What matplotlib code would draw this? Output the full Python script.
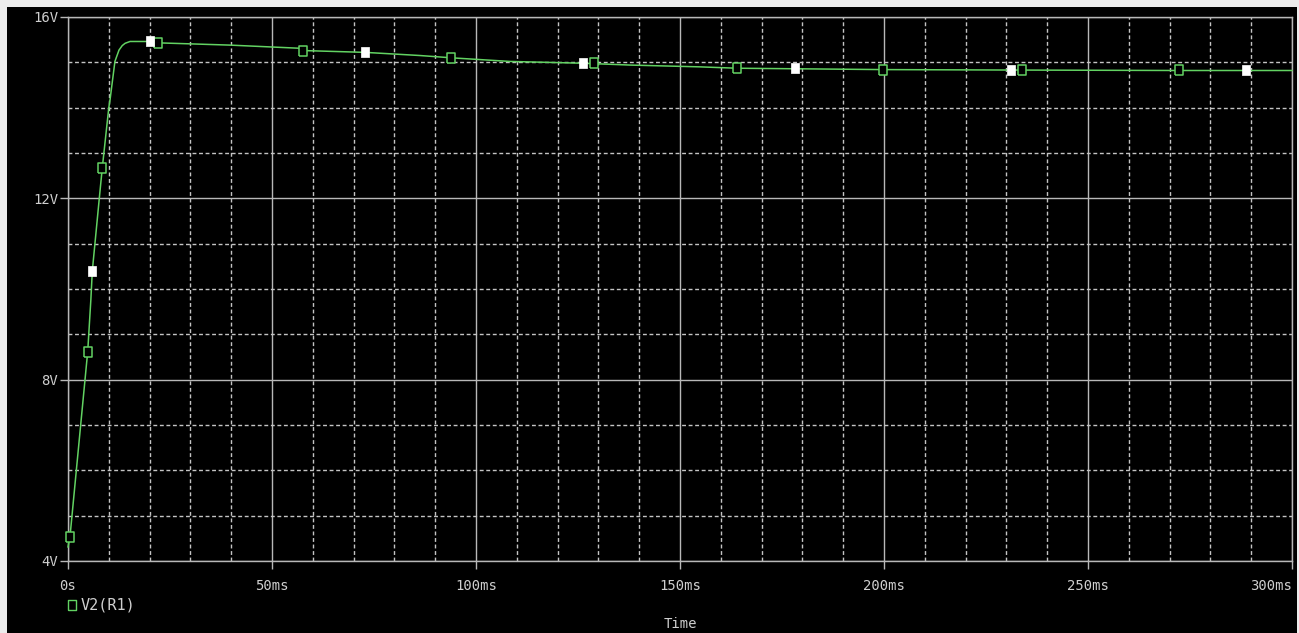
import matplotlib
matplotlib.use("Agg")
import matplotlib.pyplot as plt
from matplotlib.lines import Line2D
from matplotlib.patches import Rectangle
from matplotlib.ticker import MultipleLocator

# ---- data ----
time_ms = [0, 0.5, 4.17, 4.83, 5.6, 5.96, 7.67, 8.4, 10.0, 10.3, 11.5, 12.5,
           13.3, 14.0, 15.2, 20.1, 22.0, 39.7, 56.9, 57.6, 72.8, 86.3, 93.9, 108.3,
           126.2, 137.7, 154.9, 164.0, 199.8, 231.1, 272.3, 300]
v2_r1 = [4.31, 4.55, 8.0, 8.62, 9.76, 10.4, 12.0, 12.67, 14.0, 14.17, 15.02, 15.27,
         15.37, 15.42, 15.46, 15.46, 15.43, 15.38, 15.31, 15.26, 15.22, 15.15, 15.10, 15.02,
         14.98, 14.94, 14.90, 14.87, 14.84, 14.83, 14.82, 14.82]

green_marker_t = [0.5, 4.8, 8.4, 22.0, 57.6, 93.9, 128.9, 164.0, 199.8, 233.8, 272.3]
green_marker_v = [4.53, 8.62, 12.67, 15.43, 15.26, 15.10, 14.98, 14.87, 14.84, 14.83, 14.82]
white_marker_t = [6.0, 20.1, 72.8, 126.2, 178.2, 231.1, 288.7]
white_marker_v = [10.4, 15.46, 15.22, 14.98, 14.87, 14.83, 14.82]

x_ticks = [0, 50, 100, 150, 200, 250, 300]
x_tick_labels = ["0s", "50ms", "100ms", "150ms", "200ms", "250ms", "300ms"]
y_ticks = [4, 8, 12, 16]
y_tick_labels = ["4V", "8V", "12V", "16V"]
series_name = "V2(R1)"
x_axis_name = "Time"

# ---- styling ----
W, H = 1299, 633
GREEN = "#62d262"
GRID = "#b8b8b8"
TXT = "#cfcfcf"
FONT = "DejaVu Sans Mono"

fig = plt.figure(figsize=(W / 100, H / 100), dpi=100, facecolor="#ececec")
fig.add_artist(Rectangle((7 / W, 0), (1297 - 7) / W, (H - 7) / H,
                         transform=fig.transFigure, facecolor="black",
                         edgecolor="none", zorder=0))

ax = fig.add_axes([68 / W, (H - 561) / H, (1292 - 68) / W, (561 - 17) / H])
ax.set_facecolor("black")
ax.set_xlim(0, 300)
ax.set_ylim(4, 16)

ax.set_xticks(x_ticks)
ax.set_xticklabels(x_tick_labels)
ax.set_yticks(y_ticks)
ax.set_yticklabels(y_tick_labels)
ax.xaxis.set_minor_locator(MultipleLocator(10))
ax.yaxis.set_minor_locator(MultipleLocator(1))

ax.grid(which="major", color=GRID, linewidth=1.0, linestyle="-")
ax.grid(which="minor", color="#c4c4c4", linewidth=1.0, linestyle=(0, (2.8, 1.9)))
ax.set_axisbelow(True)

for s in ax.spines.values():
    s.set_color(GRID)
    s.set_linewidth(1.0)

ax.tick_params(which="major", direction="out", length=6, width=1.0, color=GRID,
               labelcolor=TXT, labelsize=10)
ax.tick_params(axis="x", which="major", pad=7)
ax.tick_params(axis="y", which="major", pad=1)
ax.tick_params(which="minor", length=0)
for lab in ax.get_xticklabels() + ax.get_yticklabels():
    lab.set_fontfamily(FONT)
ax.get_xticklabels()[-1].set_ha("right")

rect_marker = [(-0.4, -0.5), (0.4, -0.5), (0.4, 0.5), (-0.4, 0.5), (-0.4, -0.5)]

ax.plot(time_ms, v2_r1, color=GREEN, linewidth=1.1, zorder=3, clip_on=False)
ax.plot(green_marker_t, green_marker_v, linestyle="none", marker=rect_marker,
        markersize=7.2, markerfacecolor="black", markeredgecolor=GREEN,
        markeredgewidth=1.1, zorder=4, clip_on=False)
ax.plot(white_marker_t, white_marker_v, linestyle="none", marker=rect_marker,
        markersize=6.5, markerfacecolor="white", markeredgecolor="white",
        markeredgewidth=0.5, zorder=5, clip_on=False)

# axis title
fig.text(680 / W, 1 - 624 / H, x_axis_name, color=TXT, fontsize=10,
         family=FONT, ha="center", va="center")

# legend
fig.add_artist(Line2D([72 / W], [1 - 605 / H], transform=fig.transFigure,
                      marker=rect_marker, markersize=7, markerfacecolor="black",
                      markeredgecolor=GREEN, markeredgewidth=1.0, linestyle="none"))
fig.text(81 / W, 1 - 605 / H, series_name, color=TXT, fontsize=11,
         family=FONT, ha="left", va="center")

fig.savefig("out.png", dpi=100, facecolor=fig.get_facecolor())
